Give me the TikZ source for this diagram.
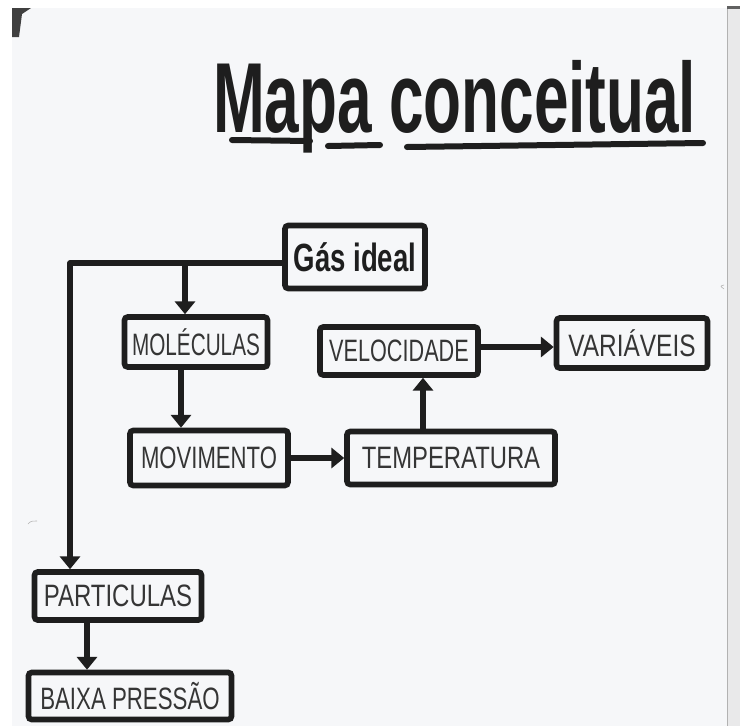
\documentclass[tikz,border=0pt]{standalone}
\usepackage{fontspec}
\setmainfont{Liberation Sans}
\usepackage{graphicx}
\usetikzlibrary{arrows.meta}
\definecolor{ink}{HTML}{1E1E1E}
\definecolor{pencil}{HTML}{353535}
\definecolor{paper}{HTML}{F6F7F9}
\definecolor{edge}{HTML}{E9E9EA}
% squeeze a label horizontally, like narrow hand lettering
\newcommand\narrow[2]{\scalebox{#1}[1]{#2}}

\begin{document}
\begin{tikzpicture}[x=0.25mm,y=-0.25mm,
  concept/.style 2 args={draw=ink, line width=1.4mm, rounded corners=0.8mm,
    minimum width=#1*0.25mm, minimum height=#2*0.25mm, inner sep=0pt,
    text=pencil, font=\fontsize{22}{24}\selectfont},
  link/.style={draw=ink, line width=1.3mm, line join=round,
    -{Triangle[width=5mm,length=3.2mm]}},
  rule/.style={draw=ink, line width=1.5mm, line cap=round}]
\useasboundingbox (0,0) rectangle (740,726);

% sheet of paper on the scanner
\fill[white] (0,0) rectangle (740,726);
\fill[paper] (12,8) rectangle (727,726);
\fill[edge] (727,8) rectangle (740,726);
\draw[gray!60, line width=0.3pt] (727,8) -- (727,726);
\fill[ink!70] (727,6) rectangle (740,9);
\fill[ink!85] (12,8) -- (31,8) -- (22,14) -- (19,37) -- (12,37) -- cycle;
\draw[gray!60, line width=0.4pt] (28,524) .. controls (31,521) .. (37,521);
\draw[gray!60, line width=0.4pt] (724,285) .. controls (720,286) .. (724,289);

% title
\node[anchor=base west, inner sep=0pt, font=\fontsize{60}{62}\selectfont\bfseries, text=ink]
  (title) at (213,132) {\scalebox{0.736}[1.18]{Mapa conceitual}};
\draw[rule] (232,140) -- (310,141);
\draw[rule] (328,146) -- (380,145);
\draw[rule] (407,147) -- (703,143);

% concepts
\node[concept={140}{63}, text=ink, font=\fontsize{28}{30}\selectfont\bfseries]
  (gas) at (355,257) {\narrow{0.70}{Gás ideal}};
\node[concept={143}{50}] (mol) at (196,342) {\narrow{0.67}{MOLÉCULAS}};
\node[concept={158}{55}] (mov) at (209,458) {\narrow{0.715}{MOVIMENTO}};
\node[concept={208}{53}] (temp) at (451,458) {\narrow{0.77}{TEMPERATURA}};
\node[concept={158}{48}] (vel) at (399,351) {\narrow{0.70}{VELOCIDADE}};
\node[concept={151}{50}] (var) at (632,343) {\narrow{0.79}{VARIÁVEIS}};
\node[concept={167}{48}] (part) at (118,596) {\narrow{0.775}{PARTICULAS}};
\node[concept={203}{47}] (baixa) at (130,696) {\narrow{0.72}{BAIXA PRESSÃO}};

% connectors
\coordinate (hl) at (70,263);
\coordinate (br) at (185,263);
\coordinate (mx) at (181,0);
\coordinate (tx) at (423,0);
\coordinate (vy) at (0,347);
\coordinate (px) at (87,0);
\draw[link] (gas.west |- hl) -- (hl) -- (hl |- part.north);
\draw[link] (br) -- (br |- mol.north);
\draw[link] (mol.south -| mx) -- (mov.north -| mx);
\draw[link] (mov.east) -- (temp.west);
\draw[link] (temp.north -| tx) -- (vel.south -| tx);
\draw[link] (vel.east |- vy) -- (var.west |- vy);
\draw[link] (part.south -| px) -- (baixa.north -| px);
\end{tikzpicture}
\end{document}
